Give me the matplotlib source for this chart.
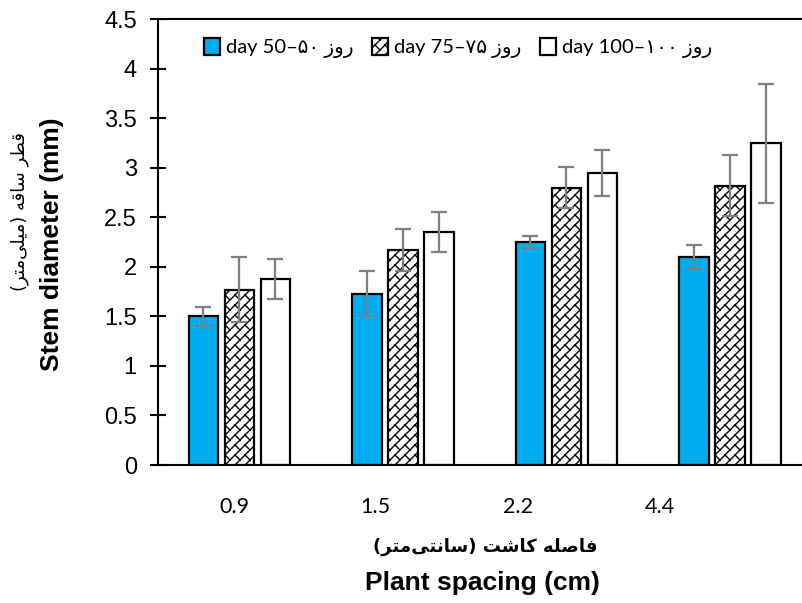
import warnings
import numpy as np
import matplotlib
matplotlib.use("Agg")
import matplotlib.pyplot as plt
import matplotlib.hatch as mhatch
from matplotlib.path import Path

warnings.filterwarnings("ignore")

# ---------------- data ----------------
spacing_labels = ["0.9", "1.5", "2.2", "4.4"]
day50 = [1.50, 1.73, 2.25, 2.10]
day50_err = [0.10, 0.23, 0.06, 0.12]
day75 = [1.77, 2.17, 2.80, 2.82]
day75_err = [0.33, 0.21, 0.21, 0.31]
day100 = [1.88, 2.35, 2.95, 3.25]
day100_err = [0.20, 0.20, 0.23, 0.60]
yticks = [0, 0.5, 1, 1.5, 2, 2.5, 3, 3.5, 4, 4.5]
ytick_labels = ["0", "0.5", "1", "1.5", "2", "2.5", "3", "3.5", "4", "4.5"]

# ---------------- simple Persian shaping ----------------
FORMS = {  # isolated, final, initial, medial
    'ا': ('\uFE8D', '\uFE8E', None, None),
    'ت': ('\uFE95', '\uFE96', '\uFE97', '\uFE98'),
    'ر': ('\uFEAD', '\uFEAE', None, None),
    'ز': ('\uFEAF', '\uFEB0', None, None),
    'س': ('\uFEB1', '\uFEB2', '\uFEB3', '\uFEB4'),
    'ش': ('\uFEB5', '\uFEB6', '\uFEB7', '\uFEB8'),
    'ص': ('\uFEB9', '\uFEBA', '\uFEBB', '\uFEBC'),
    'ط': ('\uFEC1', '\uFEC2', '\uFEC3', '\uFEC4'),
    'ف': ('\uFED1', '\uFED2', '\uFED3', '\uFED4'),
    'ق': ('\uFED5', '\uFED6', '\uFED7', '\uFED8'),
    'ک': ('\uFED9', '\uFEDA', '\uFEDB', '\uFEDC'),
    'ل': ('\uFEDD', '\uFEDE', '\uFEDF', '\uFEE0'),
    'م': ('\uFEE1', '\uFEE2', '\uFEE3', '\uFEE4'),
    'ن': ('\uFEE5', '\uFEE6', '\uFEE7', '\uFEE8'),
    'ه': ('\uFEE9', '\uFEEA', '\uFEEB', '\uFEEC'),
    'و': ('\uFEED', '\uFEEE', None, None),
    'ی': ('\uFEEF', '\uFEF0', '\uFEF3', '\uFEF4'),
}
DUAL = {k for k, v in FORMS.items() if v[2] is not None}


def shape(s):
    out = []
    for i, c in enumerate(s):
        if c not in FORMS:
            if c == '\u200c':
                continue
            out.append(c)
            continue
        prev = s[i - 1] if i > 0 else ''
        nxt = s[i + 1] if i + 1 < len(s) else ''
        jp = prev in DUAL
        jn = (c in DUAL) and (nxt in FORMS)
        iso, fin, ini, med = FORMS[c]
        if jp and jn:
            g = med
        elif jp:
            g = fin
        elif jn:
            g = ini
        else:
            g = iso
        out.append(g)
    mirror = {'(': ')', ')': '('}
    return ''.join(mirror.get(ch, ch) for ch in reversed(out))


# ---------------- custom "shingle" hatch ----------------
class ShingleHatch(mhatch.HatchPatternBase):
    def __init__(self, hatch, density):
        self.m = 10 * hatch.count('z')
        self.num_vertices = 4 * self.m * self.m if self.m else 0

    def set_vertices_and_codes(self, vertices, codes):
        m = self.m
        k = 0
        for i in range(m):
            for j in range(m):
                vertices[k] = (i / m, j / m)
                vertices[k + 1] = ((i + 1) / m, (j + 1) / m)
                vertices[k + 2] = ((i + 0.5) / m, (j + 0.5) / m)
                vertices[k + 3] = ((i + 1) / m, j / m)
                codes[k] = Path.MOVETO
                codes[k + 1] = Path.LINETO
                codes[k + 2] = Path.MOVETO
                codes[k + 3] = Path.LINETO
                k += 4


mhatch._hatch_types.append(ShingleHatch)
plt.rcParams['hatch.linewidth'] = 1.0
plt.rcParams['hatch.color'] = 'black'

# ---------------- figure ----------------
W, H = 802, 603
fig = plt.figure(figsize=(W / 100, H / 100), dpi=100)
ax = fig.add_axes([157.7 / W, (H - 465) / H, 654 / W, 445.7 / H])

x = np.arange(len(spacing_labels))
bw = 0.179
step = 0.22
err_kw = dict(ecolor='#7f7f7f', elinewidth=1.6, capsize=6, capthick=1.6)

b1 = ax.bar(x - step, day50, bw, yerr=day50_err, color='#00AEEF',
            edgecolor='black', linewidth=1.6, error_kw=err_kw,
            label='day 50\u2013' + '\u06F5\u06F0 ' + shape('روز'))
b2 = ax.bar(x, day75, bw, yerr=day75_err, color='white', hatch='z',
            edgecolor='black', linewidth=1.6, error_kw=err_kw,
            label='day 75\u2013' + '\u06F7\u06F5 ' + shape('روز'))
b3 = ax.bar(x + step, day100, bw, yerr=day100_err, color='white',
            edgecolor='black', linewidth=1.6, error_kw=err_kw,
            label='day 100\u2013' + '\u06F1\u06F0\u06F0 ' + shape('روز'))

ax.set_xlim(-0.5, 3.5)
ax.set_ylim(0, 4.5)
ax.set_yticks(yticks)
ax.set_yticklabels(ytick_labels, fontsize=17, family='Liberation Sans')
ax.tick_params(axis='y', direction='inout', length=12, width=1.5, pad=9)

tick_pos = [-0.029, 0.834, 1.703, 2.571]
ax.set_xticks(tick_pos)
ax.set_xticklabels(spacing_labels, fontsize=15.5, family='Lato')
ax.tick_params(axis='x', length=0, pad=23)

for s in ['left', 'bottom', 'top']:
    ax.spines[s].set_linewidth(1.5)
    ax.spines[s].set_color('black')
ax.spines['right'].set_visible(False)

leg = fig.legend(handles=[b1, b2, b3], loc='center left',
                 bbox_to_anchor=(204 / W, (H - 48) / H), ncol=3,
                 frameon=False, borderpad=0, borderaxespad=0,
                 handlelength=0.8, handleheight=0.9, handletextpad=0.3,
                 columnspacing=0.9,
                 prop={'family': ['Lato', 'DejaVu Sans'], 'size': 14.5})

fig.text(52 / W, (H - 244) / H, 'Stem diameter (mm)', rotation=90,
         ha='center', va='center', fontsize=19, fontweight='bold',
         family='Liberation Sans')
fig.text(20 / W, (H - 212) / H, shape('قطر ساقه (میلی‌متر)'), rotation=90,
         ha='center', va='center', fontsize=13, family='DejaVu Sans')
fig.text(482 / W, (H - 583) / H, 'Plant spacing (cm)',
         ha='center', va='center', fontsize=19, fontweight='bold',
         family='Liberation Sans')
fig.text(485 / W, (H - 547) / H, shape('فاصله کاشت (سانتی‌متر)'),
         ha='center', va='center', fontsize=13, fontweight='bold',
         family='DejaVu Sans')

fig.savefig('out.png', dpi=100)
